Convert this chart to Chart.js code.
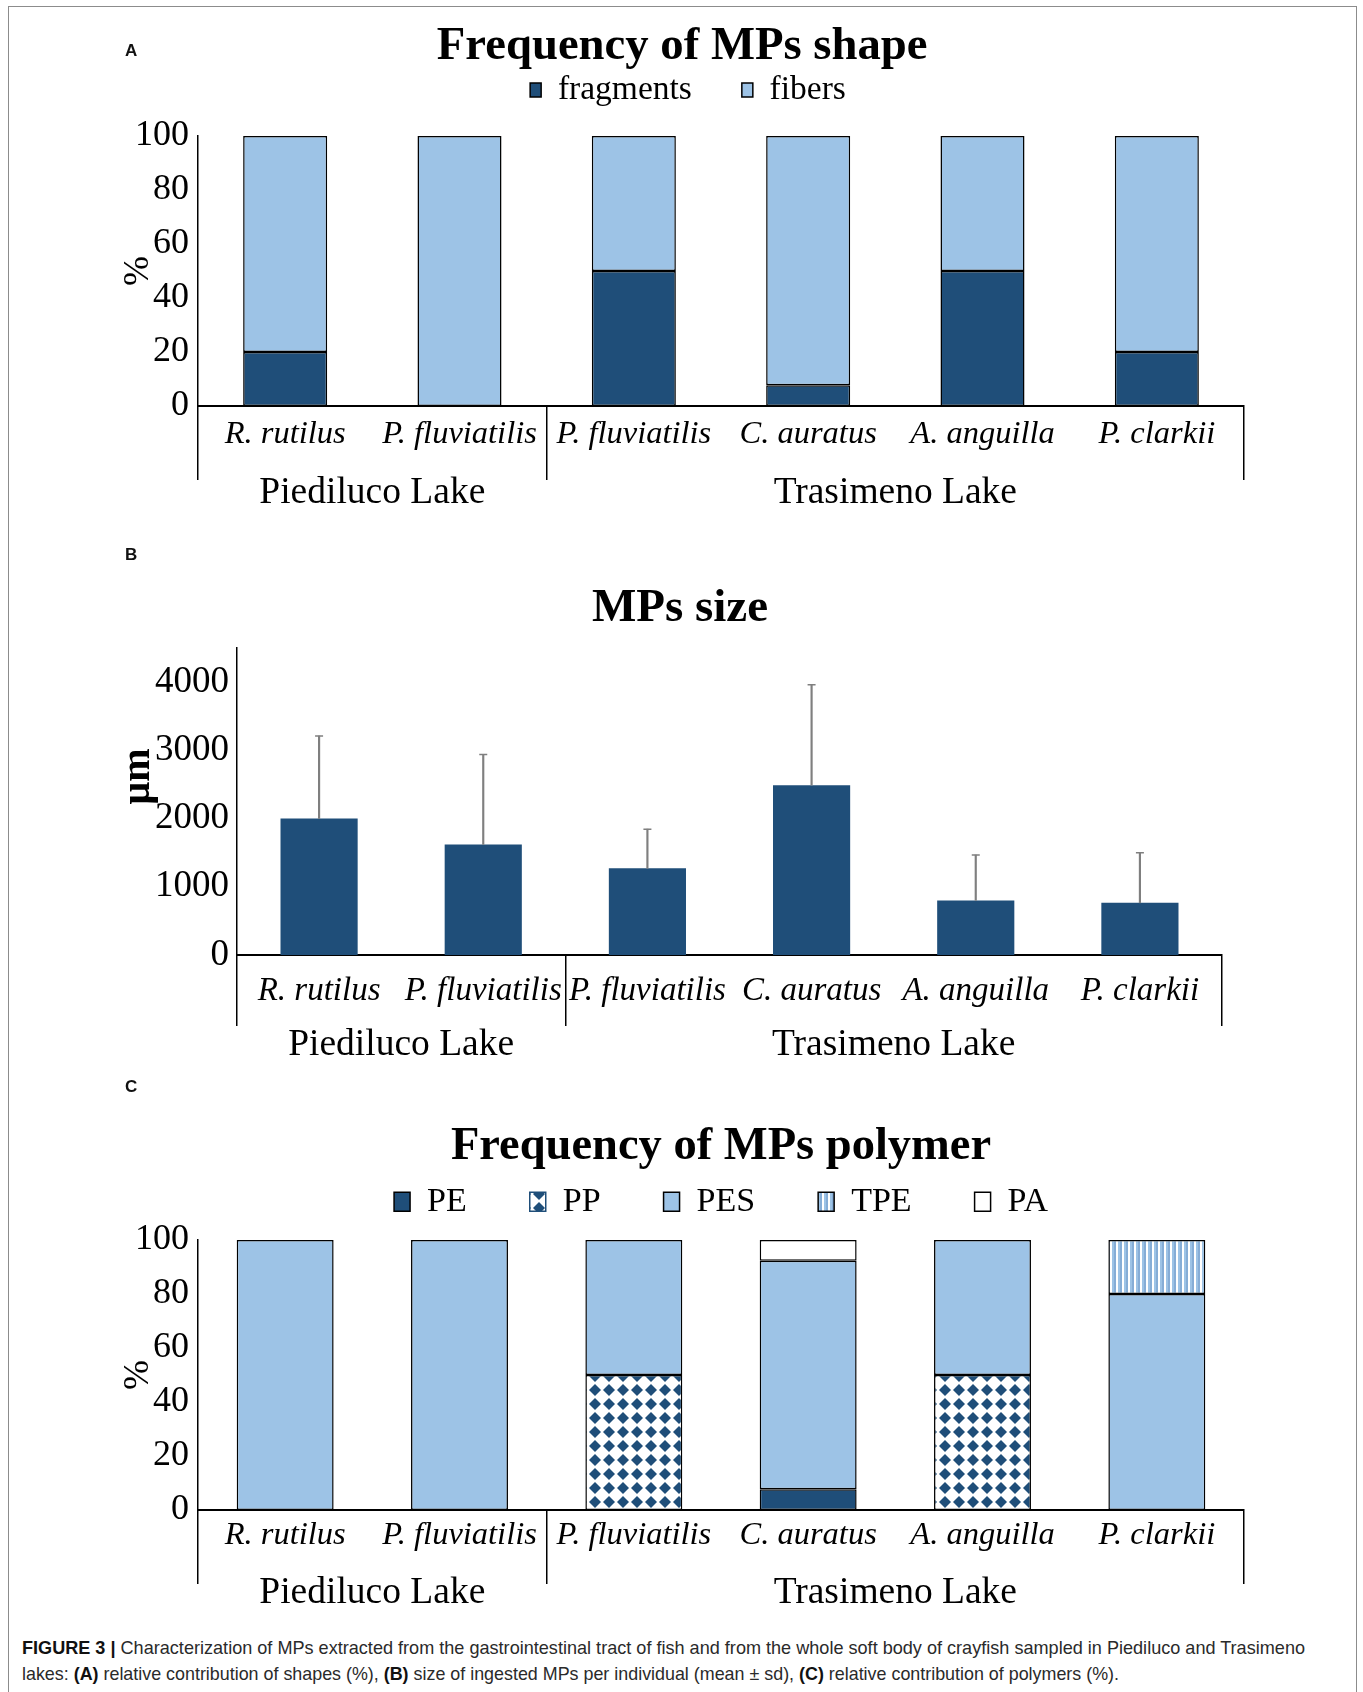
<!DOCTYPE html>
<html>
<head>
<meta charset="utf-8">
<title>Characterization of MPs — Piediluco and Trasimeno lakes</title>
<script src="https://cdn.jsdelivr.net/npm/chart.js@4.4.1/dist/chart.umd.min.js"></script>
<style>
  html, body { margin: 0; padding: 0; background: #fff; }
  body { position: relative; width: 1363px; height: 1692px; overflow: hidden; }
  .frame { position: absolute; left: 8px; top: 6px; width: 1349px; height: 1740px; border: 1px solid #8c8c8c; box-sizing: border-box; }
  canvas { position: absolute; left: 0; }
  .tag { position: absolute; font: bold 17px 'Liberation Sans', Arial, sans-serif; color: #111; line-height: 18px; }
  .cap { position: absolute; left: 22px; font-size: 19px; line-height: 22px; color: #2a2a2a; white-space: nowrap;
         font-family: 'Liberation Sans Narrow', 'Liberation Sans', Arial, sans-serif; transform-origin: 0 50%; }
  .cap b { color: #111; }
</style>
</head>
<body>
<div class="frame"></div>
<canvas id="chartA" width="1363" height="515" style="top:0"></canvas>
<canvas id="chartB" width="1363" height="560" style="top:515px"></canvas>
<canvas id="chartC" width="1363" height="545" style="top:1075px"></canvas>
<div class="tag" style="left:125px;top:42px">A</div>
<div class="tag" style="left:125px;top:546px">B</div>
<div class="tag" style="left:125px;top:1078px">C</div>
<div class="cap" id="cap1" style="top:1637px"><b>FIGURE 3 |</b> Characterization of MPs extracted from the gastrointestinal tract of fish and from the whole soft body of crayfish sampled in Piediluco and Trasimeno</div>
<div class="cap" id="cap2" style="top:1663px">lakes: <b>(A)</b> relative contribution of shapes (%), <b>(B)</b> size of ingested MPs per individual (mean ± sd), <b>(C)</b> relative contribution of polymers (%).</div>

<script>
// ---- data ----
const species = ['R. rutilus', 'P. fluviatilis', 'P. fluviatilis', 'C. auratus', 'A. anguilla', 'P. clarkii'];
const lakeNames = ['Piediluco Lake', 'Trasimeno Lake'];
const lakeSizes = [2, 4];               // number of species sampled in each lake

// (A) shape frequency, %
const fragments = [20, 0, 50, 7.7, 50, 20];
const fibers    = [80, 100, 50, 92.3, 50, 80];

// (B) particle size, µm (mean and standard deviation)
const sizeMean = [2000, 1620, 1270, 2490, 800, 765];
const sizeSd   = [1210, 1320, 575, 1470, 665, 735];

// (C) polymer frequency, %
const polyPE  = [0, 0, 0, 7.7, 0, 0];
const polyPP  = [0, 0, 50, 0, 50, 0];
const polyPES = [100, 100, 50, 84.6, 50, 80];
const polyTPE = [0, 0, 0, 0, 0, 20];
const polyPA  = [0, 0, 0, 7.7, 0, 0];

// axis ticks
const pctTicks  = [0, 20, 40, 60, 80, 100];
const sizeTicks = [0, 1000, 2000, 3000, 4000];

// ---- styling ----
const SERIF = "'Liberation Serif', 'Times New Roman', serif";
const DARK = '#1f4e79';
const LIGHT = '#9dc3e6';
const ERR = '#7f7f7f';

Chart.defaults.font.family = SERIF;
Chart.defaults.color = '#000';
Chart.defaults.animation = false;
Chart.defaults.events = [];
Chart.defaults.plugins.tooltip.enabled = false;

// lake boundaries (category indices where a lake group starts / ends)
const lakeEdges = [0];
lakeSizes.forEach(n => lakeEdges.push(lakeEdges[lakeEdges.length - 1] + n));
const lakeCenters = lakeSizes.map((n, i) => lakeEdges[i] + n / 2 - 0.5);

function diamondPattern() {
  const c = document.createElement('canvas');
  c.width = 14; c.height = 14;
  const g = c.getContext('2d');
  g.fillStyle = '#fff'; g.fillRect(0, 0, 14, 14);
  g.fillStyle = DARK;
  g.beginPath(); g.moveTo(7, 1); g.lineTo(13, 7); g.lineTo(7, 13); g.lineTo(1, 7); g.closePath(); g.fill();
  return g.createPattern(c, 'repeat');
}
function stripePattern() {
  const c = document.createElement('canvas');
  c.width = 6; c.height = 6;
  const g = c.getContext('2d');
  g.fillStyle = '#fff'; g.fillRect(0, 0, 2, 6);
  g.fillStyle = LIGHT; g.fillRect(2, 0, 2, 6);
  g.fillStyle = '#86add6'; g.fillRect(4, 0, 2, 6);
  return g.createPattern(c, 'repeat');
}

// species axis with lake dividers, plus a second axis carrying the lake names
function categoryAxes(o) {
  return {
    x: {
      stacked: !!o.stacked,
      weight: 0,
      border: { display: true, color: '#000', width: 2 },
      grid: {
        drawOnChartArea: false, drawTicks: true, tickLength: o.tickLen,
        color: ctx => (ctx.type !== 'tick' || lakeEdges.includes(ctx.index)) ? '#000' : 'rgba(0,0,0,0)',
        lineWidth: 1.5
      },
      ticks: { font: { size: o.labelSize, style: 'italic' }, padding: o.labelPad,
               maxRotation: 0, minRotation: 0, autoSkip: false },
      afterFit: s => { s.height = o.labelH; }
    },
    lake: {
      type: 'linear', position: 'bottom', weight: 1, offset: false,
      min: -0.5, max: species.length - 0.5,
      grid: { display: false, drawTicks: false }, border: { display: false },
      afterBuildTicks: s => { s.ticks = lakeCenters.map(v => ({ value: v })); },
      ticks: { font: { size: o.lakeSize }, padding: o.lakePad, maxRotation: 0, minRotation: 0,
               autoSkip: false, callback: (v, i) => lakeNames[i] },
      afterFit: s => { s.height = o.lakeH; }
    }
  };
}

function valueAxis(o) {
  return {
    stacked: !!o.stacked, min: 0, max: o.max,
    grid: { display: false, drawTicks: false },
    border: { display: true, color: '#000', width: 1.5 },
    afterBuildTicks: s => { s.ticks = o.ticks.map(v => ({ value: v })); },
    ticks: { font: { size: o.tickSize }, padding: o.tickPad, callback: v => String(v) },
    title: { display: true, text: o.title, font: { size: o.titleSize, weight: o.titleWeight || 'normal' },
             padding: { top: o.titlePad, bottom: 0 } },
    afterFit: s => { s.width = o.width; }
  };
}

// ---- (A) Frequency of MPs shape ----
new Chart(document.getElementById('chartA'), {
  type: 'bar',
  data: {
    labels: species,
    datasets: [
      { label: 'fragments', data: fragments, backgroundColor: DARK, borderColor: '#000', borderWidth: 1.5, borderSkipped: false },
      { label: 'fibers', data: fibers, backgroundColor: LIGHT, borderColor: '#000', borderWidth: 1.5, borderSkipped: false }
    ]
  },
  options: {
    responsive: false, devicePixelRatio: 1,
    layout: { padding: { left: 132, right: 119, top: 0, bottom: 5 } },
    datasets: { bar: { barPercentage: 0.482, categoryPercentage: 1 } },
    plugins: {
      title: { display: true, text: 'Frequency of MPs shape ', font: { size: 46.7, weight: 'bold' },
               padding: { top: 19.3, bottom: -52.05 } },
      legend: { display: true, labels: { boxWidth: 11, boxHeight: 14, padding: 50, font: { size: 33.5 } } },
      subtitle: { display: true, text: '', weight: 500, font: { size: 1, lineHeight: 1 }, padding: { top: 18.25, bottom: 0 } }
    },
    scales: Object.assign(
      categoryAxes({ stacked: true, tickLen: 74, labelH: 60, labelSize: 32.5, labelPad: -65.5,
                     lakeSize: 37.5, lakePad: 4.5, lakeH: 44 }),
      { y: valueAxis({ stacked: true, max: 100, ticks: pctTicks, tickSize: 36, tickPad: 9,
                       title: '%', titleSize: 36, titlePad: -14.6, width: 66 }) }
    )
  }
});

// ---- (B) MPs size ----
const sizeTop = sizeMean.map((m, i) => m + sizeSd[i]);
new Chart(document.getElementById('chartB'), {
  type: 'bar',
  data: {
    labels: species,
    datasets: [
      { label: 'mean', data: sizeMean, backgroundColor: DARK, borderWidth: 0, grouped: false,
        barPercentage: 0.47, categoryPercentage: 1, order: 2 },
      { label: 'sd', data: sizeMean.map((m, i) => [m, sizeTop[i]]), backgroundColor: ERR, borderWidth: 0,
        grouped: false, barThickness: 1.5, order: 1 },
      { type: 'line', label: 'sd cap', data: sizeTop, showLine: false, pointStyle: 'line', pointRadius: 4,
        pointBorderColor: ERR, pointBorderWidth: 1.5, borderColor: ERR, order: 0 }
    ]
  },
  options: {
    responsive: false, devicePixelRatio: 1,
    layout: { padding: { left: 138, right: 141, top: 0, bottom: 6 } },
    plugins: {
      title: { display: true, text: 'MPs size', font: { size: 47, weight: 'bold' }, padding: { top: 65.5, bottom: 11.1 } },
      legend: { display: false }
    },
    scales: Object.assign(
      categoryAxes({ tickLen: 71, labelH: 57, labelSize: 33, labelPad: -54.8, lakeSize: 37.5, lakePad: 10.9, lakeH: 57 }),
      { y: valueAxis({ max: 4500, ticks: sizeTicks, tickSize: 37, tickPad: 8,
                       title: '     μm', titleSize: 40, titleWeight: 'bold', titlePad: -23, width: 99 }) }
    )
  }
});

// ---- (C) Frequency of MPs polymer ----
const outline = { borderColor: '#000', borderWidth: 1.5, borderSkipped: false };
new Chart(document.getElementById('chartC'), {
  type: 'bar',
  data: {
    labels: species,
    datasets: [
      Object.assign({ label: 'PE', data: polyPE, backgroundColor: DARK }, outline),
      Object.assign({ label: 'PP', data: polyPP, backgroundColor: diamondPattern() }, outline),
      Object.assign({ label: 'PES', data: polyPES, backgroundColor: LIGHT }, outline),
      Object.assign({ label: 'TPE', data: polyTPE, backgroundColor: stripePattern() }, outline),
      Object.assign({ label: 'PA', data: polyPA, backgroundColor: '#fff' }, outline)
    ]
  },
  options: {
    responsive: false, devicePixelRatio: 1,
    layout: { padding: { left: 118, right: 119, top: 0, bottom: 6 } },
    datasets: { bar: { barPercentage: 0.556, categoryPercentage: 1 } },
    plugins: {
      title: { display: true, fullSize: false, text: 'Frequency of MPs polymer', font: { size: 46.5, weight: 'bold' },
               padding: { top: 44.5, bottom: -53.6 } },
      legend: {
        display: true, fullSize: false,
        labels: {
          boxWidth: 16, boxHeight: 19, padding: 63, font: { size: 34 },
          generateLabels: chart => Chart.defaults.plugins.legend.labels.generateLabels(chart)
            .map(item => item.text === 'PP' ? Object.assign(item, { strokeStyle: DARK }) : item)
        }
      },
      subtitle: { display: true, text: '', weight: 500, font: { size: 1, lineHeight: 1 }, padding: { top: 10.3, bottom: 0 } }
    },
    scales: Object.assign(
      categoryAxes({ stacked: true, tickLen: 74, labelH: 52, labelSize: 32.5, labelPad: -68.5,
                     lakeSize: 37.5, lakePad: 8.5, lakeH: 52 }),
      { y: valueAxis({ stacked: true, max: 100, ticks: pctTicks, tickSize: 36, tickPad: 9,
                       title: '%', titleSize: 36, titlePad: -0.6, width: 80 }) }
    )
  }
});

// caption lines are set in a condensed face; stretch each to its column width
[['cap1', 1283], ['cap2', 1097]].forEach(([id, w]) => {
  const el = document.getElementById(id);
  const cur = el.getBoundingClientRect().width;
  if (cur > 0) el.style.transform = 'scaleX(' + (w / cur) + ')';
});
</script>
</body>
</html>
